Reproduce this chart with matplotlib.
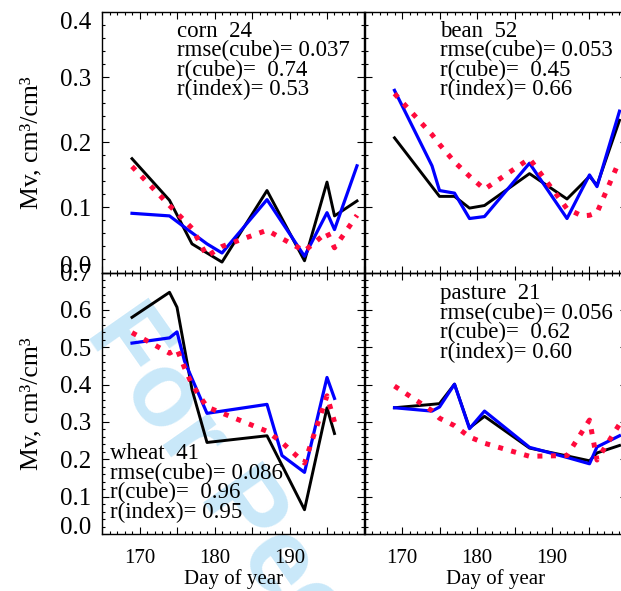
import matplotlib
matplotlib.use('Agg')
import matplotlib.pyplot as plt
from matplotlib.ticker import MultipleLocator, FixedLocator

plt.rcParams['font.family'] = 'Liberation Serif'

# x axis
day_ticks = [165, 170, 175, 180, 185, 190, 195, 200]
day_labels = ['', '170', '', '180', '', '190', '', '']

# corn
corn_day = [169, 174, 177, 179, 181, 187, 192, 195, 196, 199]
corn_obs = [0.175, 0.111, 0.044, 0.030, 0.016, 0.126, 0.018, 0.139, 0.087, 0.110]
corn_cube = [0.091, 0.087, 0.061, 0.044, 0.030, 0.112, 0.025, 0.092, 0.066, 0.164]
corn_index = [0.163, 0.103, 0.068, 0.025, 0.040, 0.065, 0.033, 0.062, 0.038, 0.088]
corn_text = ['corn  24', 'rmse(cube)= 0.037', 'r(cube)=  0.74', 'r(index)= 0.53']

# bean
bean_day = [169, 174, 175, 177, 179, 181, 187, 192, 194, 195, 196, 199]
bean_obs = [0.207, 0.132, 0.117, 0.117, 0.099, 0.103, 0.152, 0.113, 0.136, 0.148, 0.134, 0.234]
bean_cube = [0.280, 0.164, 0.126, 0.122, 0.083, 0.086, 0.168, 0.083, 0.128, 0.150, 0.132, 0.248]
bean_index = [0.275, 0.212, 0.197, 0.170, 0.148, 0.128, 0.175, 0.098, 0.087, 0.088, 0.092, 0.172]
bean_text = ['bean  52', 'rmse(cube)= 0.053', 'r(cube)=  0.45', 'r(index)= 0.66']

# wheat
wheat_day = [169, 174, 175, 176, 177, 179, 187, 189, 192, 195, 196]
wheat_obs = [0.580, 0.647, 0.607, 0.497, 0.387, 0.245, 0.263, 0.184, 0.065, 0.338, 0.269]
wheat_cube = [0.511, 0.525, 0.541, 0.463, 0.416, 0.323, 0.347, 0.210, 0.165, 0.419, 0.363]
wheat_index = [0.539, 0.484, 0.495, 0.445, 0.400, 0.340, 0.275, 0.245, 0.190, 0.370, 0.300]
wheat_text = ['wheat  41', 'rmse(cube)= 0.086', 'r(cube)=  0.96', 'r(index)= 0.95']

# pasture
pasture_day = [169, 174, 175, 177, 179, 181, 187, 192, 195, 196, 199]
pasture_obs = [0.338, 0.347, 0.349, 0.401, 0.284, 0.315, 0.230, 0.209, 0.196, 0.217, 0.237]
pasture_cube = [0.338, 0.329, 0.340, 0.401, 0.282, 0.329, 0.232, 0.205, 0.188, 0.233, 0.263]
pasture_index = [0.396, 0.330, 0.310, 0.290, 0.260, 0.243, 0.208, 0.210, 0.305, 0.198, 0.294]
pasture_text = ['pasture  21', 'rmse(cube)= 0.056', 'r(cube)=  0.62', 'r(index)= 0.60']

fig = plt.figure(figsize=(6.21, 5.91), dpi=100)

# watermark behind the panels
fig.text(106/621, 1 - 318/591, 'For Peer Review', rotation=-55, rotation_mode='anchor',
         ha='left', va='center', fontsize=76, fontweight='bold', family='Liberation Sans',
         color='#c9e8f9', zorder=-1)

xl, xr, w = 102/621, 364.5/621, 262.5/621
yt, ht = 1 - 272.5/591, 260.2/591
yb, hb = 1 - 534/591, 261.5/591


def panel(rect, day, obs, cube, index, ymax, text, tx, ty, left, bottom):
    ax = fig.add_axes(rect)
    ax.set_facecolor('none')
    ax.plot(day, obs, color='black', lw=2.1)
    ax.plot(day, cube, color='#0000ff', lw=2.3)
    ax.plot(day, index, color='#ff0a3c', lw=3.6, ls=(0, (1, 1.7)))
    ax.set_xlim(165, 200)
    ax.set_ylim(0, ymax)
    ax.xaxis.set_major_locator(FixedLocator(day_ticks))
    ax.xaxis.set_minor_locator(MultipleLocator(1))
    ax.yaxis.set_major_locator(MultipleLocator(0.1))
    ax.yaxis.set_minor_locator(MultipleLocator(0.02))
    ax.tick_params(which='both', direction='in', top=True, right=True, width=0.8)
    ax.tick_params(which='major', length=5)
    ax.tick_params(which='minor', length=2.5)
    ax.tick_params(axis='y', labelsize=18, pad=7.4, labelleft=left)
    ax.tick_params(axis='x', labelsize=15, pad=10.5, labelbottom=bottom)
    for s in ax.spines.values():
        s.set_linewidth(1.0)
    if bottom:
        ax.set_xticklabels(day_labels)
        ax.set_xlabel('Day of year', fontsize=15)
        ax.xaxis.set_label_coords(0.5, -0.134)
    if left:
        ax.set_yticks([i / 10 for i in range(int(round(ymax * 10)) + 1)])
        ax.set_yticklabels(['%.1f' % (i / 10) for i in range(int(round(ymax * 10)) + 1)])
        ax.set_ylabel('Mv, cm³/cm³', fontsize=18.5)
        ax.yaxis.set_label_coords(-0.228, 0.5)
    for i, s in enumerate(text):
        ax.text(tx, ty - i * 0.075, s, transform=ax.transAxes, fontsize=16.5,
                ha='left', va='baseline')
    return ax


ax1 = panel([xl, yt, w, ht], corn_day, corn_obs, corn_cube, corn_index, 0.4,
            corn_text, 0.286, 0.906, True, False)
ax2 = panel([xr, yt, w, ht], bean_day, bean_obs, bean_cube, bean_index, 0.4,
            bean_text, 0.286, 0.906, False, False)
ax3 = panel([xl, yb, w, hb], wheat_day, wheat_obs, wheat_cube, wheat_index, 0.7,
            wheat_text, 0.03, 0.286, True, True)
ax4 = panel([xr, yb, w, hb], pasture_day, pasture_obs, pasture_cube, pasture_index, 0.7,
            pasture_text, 0.286, 0.8975, False, True)

# end labels kept inside the panel like the original
t1 = ax1.yaxis.get_major_ticks()
t1[0].label1.set_va('baseline')
t1[-1].label1.set_va('top')
ax3.yaxis.get_major_ticks()[0].label1.set_va('baseline')

fig.savefig('out.png', dpi=100)
